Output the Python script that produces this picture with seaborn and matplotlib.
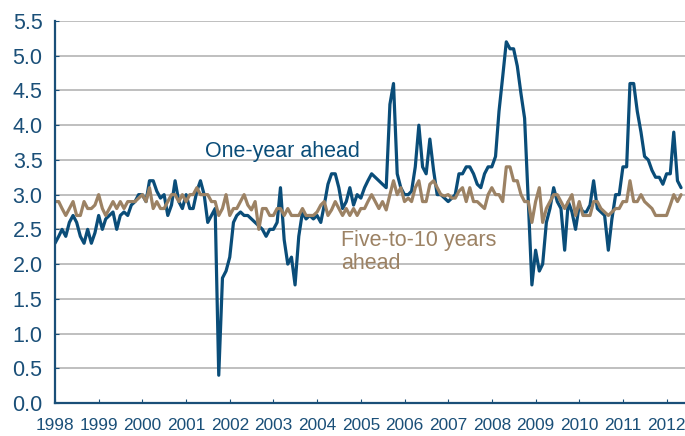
import numpy as np
import pandas as pd
import matplotlib
matplotlib.use("Agg")
import matplotlib.pyplot as plt
import seaborn as sns

# Michigan survey style inflation expectations, monthly Jan 1998 - May 2012
start_month = "1998-01-01"

one_year = [
    2.3, 2.4, 2.5, 2.4, 2.6, 2.7, 2.6, 2.4, 2.3, 2.5, 2.3, 2.45,   # 1998
    2.7, 2.5, 2.65, 2.7, 2.75, 2.5, 2.7, 2.75, 2.7, 2.85, 2.9, 3.0,  # 1999
    3.0, 2.9, 3.2, 3.2, 3.05, 2.95, 3.0, 2.7, 2.85, 3.2, 2.9, 2.8,  # 2000
    3.0, 2.8, 2.8, 3.05, 3.2, 3.0, 2.6, 2.7, 2.8, 0.4, 1.8, 1.9,    # 2001
    2.1, 2.6, 2.7, 2.75, 2.7, 2.7, 2.65, 2.6, 2.55, 2.5, 2.4, 2.5,  # 2002
    2.5, 2.6, 3.1, 2.35, 2.0, 2.1, 1.7, 2.4, 2.75, 2.65, 2.7, 2.65,  # 2003
    2.7, 2.6, 2.85, 3.15, 3.3, 3.3, 3.1, 2.8, 2.9, 3.1, 2.85, 3.0,  # 2004
    2.95, 3.1, 3.2, 3.3, 3.25, 3.2, 3.15, 3.1, 4.3, 4.6, 3.3, 3.1,  # 2005
    3.0, 3.0, 3.05, 3.4, 4.0, 3.4, 3.3, 3.8, 3.35, 3.0, 3.0, 2.95,  # 2006
    2.9, 2.95, 3.0, 3.3, 3.3, 3.4, 3.4, 3.3, 3.15, 3.1, 3.3, 3.4,   # 2007
    3.4, 3.55, 4.2, 4.7, 5.2, 5.1, 5.1, 4.85, 4.45, 4.1, 2.9, 1.7,  # 2008
    2.2, 1.9, 2.0, 2.6, 2.8, 3.1, 2.9, 2.8, 2.2, 2.9, 2.75, 2.5,    # 2009
    2.85, 2.75, 2.75, 2.85, 3.2, 2.8, 2.75, 2.7, 2.2, 2.65, 3.0, 3.0,  # 2010
    3.4, 3.4, 4.6, 4.6, 4.2, 3.9, 3.55, 3.5, 3.35, 3.25, 3.25, 3.15,  # 2011
    3.3, 3.3, 3.9, 3.2, 3.1,                                          # 2012
]

five_to_ten = [
    2.9, 2.9, 2.8, 2.7, 2.8, 2.9, 2.7, 2.7, 2.9, 2.8, 2.8, 2.85,    # 1998
    3.0, 2.8, 2.7, 2.8, 2.9, 2.8, 2.9, 2.8, 2.9, 2.9, 2.9, 2.95,    # 1999
    3.0, 2.9, 3.1, 2.8, 2.9, 2.8, 2.8, 2.9, 3.0, 3.0, 2.9, 3.0,     # 2000
    2.9, 3.0, 3.0, 3.1, 3.0, 3.0, 3.0, 2.9, 2.9, 2.7, 2.8, 3.0,     # 2001
    2.7, 2.8, 2.8, 2.9, 3.0, 2.85, 2.78, 2.9, 2.5, 2.8, 2.8, 2.7,   # 2002
    2.7, 2.8, 2.8, 2.7, 2.8, 2.7, 2.7, 2.7, 2.8, 2.7, 2.7, 2.7,     # 2003
    2.75, 2.85, 2.9, 2.7, 2.78, 2.9, 2.8, 2.7, 2.8, 2.7, 2.8, 2.7,  # 2004
    2.8, 2.8, 2.9, 3.0, 2.9, 2.8, 2.9, 2.78, 3.0, 3.2, 3.0, 3.1,    # 2005
    2.9, 2.95, 2.9, 3.1, 3.2, 2.9, 2.9, 3.15, 3.2, 3.1, 3.0, 2.98,  # 2006
    3.0, 2.95, 2.95, 3.05, 3.1, 2.9, 3.1, 2.9, 2.9, 2.85, 2.8, 3.0,  # 2007
    3.1, 3.0, 3.0, 2.9, 3.4, 3.4, 3.2, 3.2, 3.0, 2.9, 2.9, 2.6,     # 2008
    2.9, 3.1, 2.6, 2.8, 2.9, 3.0, 3.0, 2.9, 2.8, 2.9, 3.0, 2.7,     # 2009
    2.9, 2.7, 2.7, 2.7, 2.9, 2.9, 2.8, 2.75, 2.7, 2.75, 2.8, 2.8,   # 2010
    2.9, 2.9, 3.2, 2.9, 2.9, 3.0, 2.9, 2.85, 2.8, 2.7, 2.7, 2.7,    # 2011
    2.7, 2.85, 3.0, 2.9, 3.0,                                       # 2012
]

year_labels = [str(y) for y in range(1998, 2013)]

blue = "#0A4D79"
brown = "#9C8264"
axis_blue = "#1A4F78"

df = pd.DataFrame({
    "date": pd.date_range(start_month, periods=len(one_year), freq="MS"),
    "one_year": one_year,
    "five_to_ten": five_to_ten,
})

sns.set_style("white")
plt.rcParams["font.family"] = ["Liberation Sans", "DejaVu Sans"]

fig = plt.figure(figsize=(6.85, 4.36), dpi=100)
ax = fig.add_axes([55 / 685, 33 / 436, 630 / 685, 382 / 436])

sns.lineplot(data=df, x="date", y="one_year", color=blue, linewidth=2.3, ax=ax)
sns.lineplot(data=df, x="date", y="five_to_ten", color=brown, linewidth=2.3, ax=ax)

# axes limits + ticks
ax.set_ylim(0, 5.5)
ax.set_yticks(np.arange(0, 5.51, 0.5))
ax.set_yticklabels([f"{v:.1f}" for v in np.arange(0, 5.51, 0.5)])
ax.set_xlim(pd.Timestamp("1998-01-01"), pd.Timestamp("2012-06-03"))
ax.set_xticks([pd.Timestamp(f"{y}-01-01") for y in year_labels])
ax.set_xticklabels(year_labels)

ax.grid(axis="y", color="#BFBFBF", linewidth=1.4)
ax.grid(axis="x", visible=False)
ax.set_axisbelow(True)

for side in ["top", "right"]:
    ax.spines[side].set_visible(False)
for side in ["left", "bottom"]:
    ax.spines[side].set_color(axis_blue)
    ax.spines[side].set_linewidth(1.6)

ax.tick_params(axis="y", direction="in", length=3, color=axis_blue,
               labelcolor=axis_blue, labelsize=15.5, pad=9, left=True)
ax.tick_params(axis="x", direction="in", length=3, color=axis_blue,
               labelcolor=axis_blue, labelsize=12.4, pad=11, bottom=True)
ax.set_xlabel("")
ax.set_ylabel("")

# series labels
ax.text(pd.Timestamp("2001-06-10"), 3.62, "One-year ahead", color=blue,
        fontsize=15.5, ha="left", va="center")
ax.text(pd.Timestamp("2004-07-20"), 2.17, "Five-to-10 years\nahead", color=brown,
        fontsize=15.5, ha="left", va="center", linespacing=1.12)

fig.savefig("out.png", dpi=100)
